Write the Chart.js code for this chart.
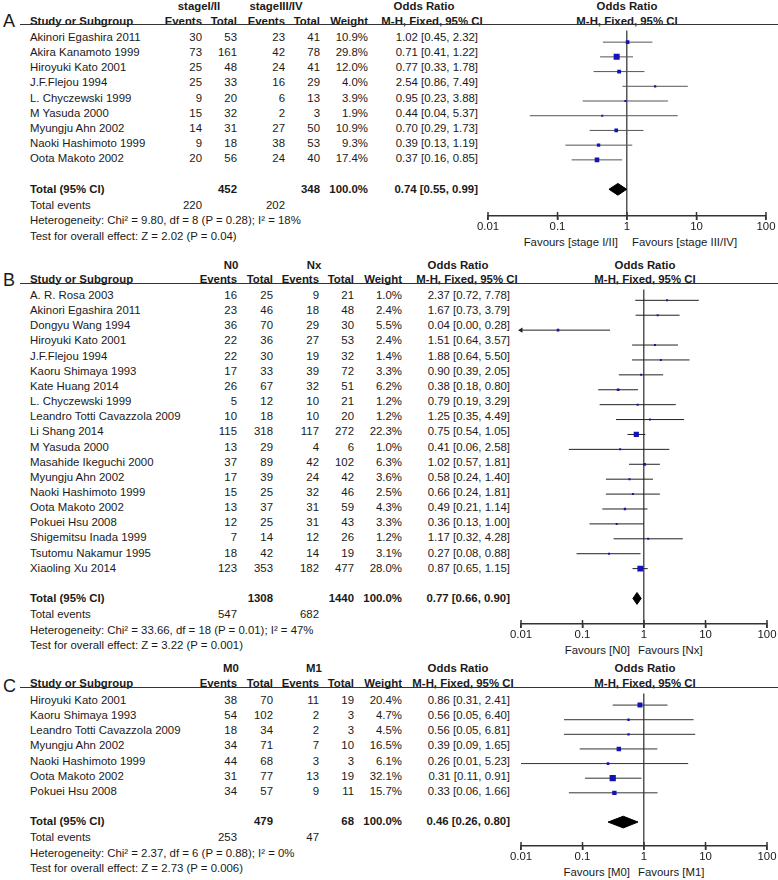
<!DOCTYPE html>
<html><head><meta charset="utf-8">
<script src="https://cdn.jsdelivr.net/npm/chart.js@4.4.0/dist/chart.umd.min.js"></script>
<style>
body{margin:0;background:#fff;}
#page{position:relative;width:778px;height:880px;overflow:hidden;font-family:"Liberation Sans",Arial,sans-serif;font-size:11.4px;color:#1a1a1a;}
.t{position:absolute;white-space:nowrap;line-height:14px;height:14px;}
.b{font-weight:bold;}
.rule{position:absolute;height:1px;background:#333;}
canvas{position:absolute;}
</style></head><body><div id="page"></div>
<script>
// ---- panel A: stage I/II vs stage III/IV ----
const studiesA = ['Akinori Egashira 2011','Akira Kanamoto 1999','Hiroyuki Kato 2001','J.F.Flejou 1994','L. Chyczewski 1999','M Yasuda 2000','Myungju Ahn 2002','Naoki Hashimoto 1999','Oota Makoto 2002'];
const evA1 = [30,73,25,25,9,15,14,9,20];
const totA1 = [53,161,48,33,20,32,31,18,56];
const evA2 = [23,42,24,16,6,2,27,38,24];
const totA2 = [41,78,41,29,13,3,50,53,40];
const weightA = [10.9,29.8,12.0,4.0,3.9,1.9,10.9,9.3,17.4];
const orA = [1.02,0.71,0.77,2.54,0.95,0.44,0.70,0.39,0.37];
const loA = [0.45,0.41,0.33,0.86,0.23,0.04,0.29,0.13,0.16];
const hiA = [2.32,1.22,1.78,7.49,3.88,5.37,1.73,1.19,0.85];
const totalA = [452,348];          // total participants
const totalEventsA = [220,202];
const pooledA = [0.74,0.55,0.99];  // OR, lo, hi
const hetA = 'Heterogeneity: Chi² = 9.80, df = 8 (P = 0.28); I² = 18%';
const testA = 'Test for overall effect: Z = 2.02 (P = 0.04)';

// ---- panel B: N0 vs Nx ----
const studiesB = ['A. R. Rosa 2003','Akinori Egashira 2011','Dongyu Wang 1994','Hiroyuki Kato 2001','J.F.Flejou 1994','Kaoru Shimaya 1993','Kate Huang 2014','L. Chyczewski 1999','Leandro Totti Cavazzola 2009','Li Shang 2014','M Yasuda 2000','Masahide Ikeguchi 2000','Myungju Ahn 2002','Naoki Hashimoto 1999','Oota Makoto 2002','Pokuei Hsu 2008','Shigemitsu Inada 1999','Tsutomu Nakamur 1995','Xiaoling Xu 2014'];
const evB1 = [16,23,36,22,22,17,26,5,10,115,13,37,17,15,13,12,7,18,123];
const totB1 = [25,46,70,36,30,33,67,12,18,318,29,89,39,25,37,25,14,42,353];
const evB2 = [9,18,29,27,19,39,32,10,10,117,4,42,24,32,31,31,12,14,182];
const totB2 = [21,48,30,53,32,72,51,21,20,272,6,102,42,46,59,43,26,19,477];
const weightB = [1.0,2.4,5.5,2.4,1.4,3.3,6.2,1.2,1.2,22.3,1.0,6.3,3.6,2.5,4.3,3.3,1.2,3.1,28.0];
const orB = [2.37,1.67,0.04,1.51,1.88,0.90,0.38,0.79,1.25,0.75,0.41,1.02,0.58,0.66,0.49,0.36,1.17,0.27,0.87];
const loB = [0.72,0.73,0.00,0.64,0.64,0.39,0.18,0.19,0.35,0.54,0.06,0.57,0.24,0.24,0.21,0.13,0.32,0.08,0.65];
const hiB = [7.78,3.79,0.28,3.57,5.50,2.05,0.80,3.29,4.49,1.05,2.58,1.81,1.40,1.81,1.14,1.00,4.28,0.88,1.15];
const totalB = [1308,1440];
const totalEventsB = [547,682];
const pooledB = [0.77,0.66,0.90];
const hetB = 'Heterogeneity: Chi² = 33.66, df = 18 (P = 0.01); I² = 47%';
const testB = 'Test for overall effect: Z = 3.22 (P = 0.001)';

// ---- panel C: M0 vs M1 ----
const studiesC = ['Hiroyuki Kato 2001','Kaoru Shimaya 1993','Leandro Totti Cavazzola 2009','Myungju Ahn 2002','Naoki Hashimoto 1999','Oota Makoto 2002','Pokuei Hsu 2008'];
const evC1 = [38,54,18,34,44,31,34];
const totC1 = [70,102,34,71,68,77,57];
const evC2 = [11,2,2,7,3,13,9];
const totC2 = [19,3,3,10,3,19,11];
const weightC = [20.4,4.7,4.5,16.5,6.1,32.1,15.7];
const orC = [0.86,0.56,0.56,0.39,0.26,0.31,0.33];
const loC = [0.31,0.05,0.05,0.09,0.01,0.11,0.06];
const hiC = [2.41,6.40,6.81,1.65,5.23,0.91,1.66];
const totalC = [479,68];
const totalEventsC = [253,47];
const pooledC = [0.46,0.26,0.80];
const hetC = 'Heterogeneity: Chi² = 2.37, df = 6 (P = 0.88); I² = 0%';
const testC = 'Test for overall effect: Z = 2.73 (P = 0.006)';

const tickVals = [0.01,0.1,1,10,100];
const AXIS_MIN = 0.01, AXIS_MAX = 100;
const SP = 15.15; // row pitch

const page = document.getElementById('page');

function txt(s, x, y, align, bold, size) {
  const d = document.createElement('div');
  d.className = 't' + (bold ? ' b' : '');
  d.textContent = s;
  if (size) d.style.fontSize = size + 'px';
  page.appendChild(d);
  const w = d.getBoundingClientRect().width;
  let left = x;
  if (align === 'right') left = x - w;
  else if (align === 'center') left = x - w / 2;
  d.style.left = left + 'px';
  d.style.top = (y - 7) + 'px';
}

function rule(x1, x2, y) {
  const d = document.createElement('div');
  d.className = 'rule';
  d.style.left = x1 + 'px'; d.style.width = (x2 - x1) + 'px'; d.style.top = y + 'px';
  page.appendChild(d);
}

const fmtOR = (o, l, h) => o.toFixed(2) + ' [' + l.toFixed(2) + ', ' + h.toFixed(2) + ']';

function panel(p, L) {
  const c = L.cols;
  txt(p.letter, 3, L.letterY, 'left', false, 18);
  txt(p.g1, L.g1x, L.groupY, 'center', true);
  txt(p.g2, L.g2x, L.groupY, 'center', true);
  txt('Odds Ratio', L.orHead, L.groupY, 'center', true);
  txt('Odds Ratio', L.plotHead, L.groupY, 'center', true);
  txt('Study or Subgroup', 30, L.headY, 'left', true);
  txt('Events', c[0], L.headY, 'right', true);
  txt('Total', c[1], L.headY, 'right', true);
  txt('Events', c[2], L.headY, 'right', true);
  txt('Total', c[3], L.headY, 'right', true);
  txt('Weight', c[4], L.headY, 'right', true);
  txt('M-H, Fixed, 95% CI', L.mhHead, L.headY, 'center', true);
  txt('M-H, Fixed, 95% CI', L.plotHead, L.headY, 'center', true);
  rule(20, 778, L.top - 1);

  const n = p.names.length;
  p.names.forEach((s, i) => {
    const y = L.row0 + i * SP;
    txt(s, 30, y, 'left');
    txt(String(p.ev1[i]), c[0], y, 'right');
    txt(String(p.tot1[i]), c[1], y, 'right');
    txt(String(p.ev2[i]), c[2], y, 'right');
    txt(String(p.tot2[i]), c[3], y, 'right');
    txt(p.w[i].toFixed(1) + '%', c[4], y, 'right');
    txt(fmtOR(p.or[i], p.lo[i], p.hi[i]), c[5], y, 'right');
  });
  const ty = L.row0 + (n + 1) * SP;
  txt('Total (95% CI)', 30, ty, 'left', true);
  txt(String(p.total[0]), c[1], ty, 'right', true);
  txt(String(p.total[1]), c[3], ty, 'right', true);
  txt('100.0%', c[4], ty, 'right', true);
  txt(fmtOR(p.pooled[0], p.pooled[1], p.pooled[2]), c[5], ty, 'right', true);
  txt('Total events', 30, ty + 16, 'left');
  txt(String(p.events[0]), c[0], ty + 16, 'right');
  txt(String(p.events[1]), c[2], ty + 16, 'right');
  txt(p.het, 30, ty + 31.5, 'left');
  txt(p.test, 30, ty + 47, 'left');
  txt(p.fav1, L.fav1x, L.favY, 'right');
  txt(p.fav2, L.fav2x, L.favY, 'left');

  // forest plot
  const cv = document.createElement('canvas');
  const padL = 20, padR = 778 - L.xR, axisH = 30;
  const W = padL + (L.xR - L.xL) + padR;
  const H = (L.axisY - L.top) + axisH;
  cv.width = W; cv.height = H;
  cv.style.left = (L.xL - padL) + 'px'; cv.style.top = L.top + 'px';
  cv.style.width = W + 'px'; cv.style.height = H + 'px';
  page.appendChild(cv);

  const yMin = (L.top - L.row0) / SP, yMax = (L.axisY - L.row0) / SP;
  const datasets = [];
  datasets.push({
    type: 'scatter',
    data: p.or.map((v, i) => ({ x: v, y: i })),
    pointStyle: 'rect',
    pointRadius: p.w.map(w => Math.max(2, 1.1 * Math.sqrt(w)) / Math.SQRT2),
    pointBackgroundColor: '#1414b4', backgroundColor: '#1414b4', pointBorderWidth: 0, borderWidth: 0,
    showLine: false
  });
  // tick marks crossing the axis line
  datasets.push({
    type: 'scatter',
    data: tickVals.map(v => ({ x: v, y: yMax })),
    pointStyle: 'line', pointRotation: 90, pointRadius: 4,
    pointBorderColor: '#333', pointBorderWidth: 1.5, showLine: false, clip: false
  });
  const t = n + 1;
  datasets.push({
    type: 'line',
    data: [{x: p.pooled[1], y: t}, {x: p.pooled[0], y: t - 0.4}, {x: p.pooled[2], y: t}, {x: p.pooled[0], y: t + 0.4}, {x: p.pooled[1], y: t}],
    borderColor: '#000', backgroundColor: '#000', borderWidth: 1, fill: 'shape', pointRadius: 0, tension: 0
  });
  p.or.forEach((v, i) => {
    const cut = p.lo[i] < AXIS_MIN;
    datasets.push({
      type: 'line',
      data: [{x: cut ? AXIS_MIN : p.lo[i], y: i}, {x: p.hi[i], y: i}],
      borderColor: L.ciColor, borderWidth: 1,
      pointRadius: cut ? [3, 0] : 0, pointStyle: 'triangle', pointRotation: 270,
      pointBackgroundColor: L.ciColor, pointBorderWidth: 0, clip: false
    });
  });

  new Chart(cv, {
    type: 'scatter',
    data: { datasets },
    options: {
      responsive: false, animation: false, events: [],
      layout: { padding: { left: padL, right: padR, top: 0, bottom: 0 } },
      plugins: { legend: { display: false }, tooltip: { enabled: false } },
      scales: {
        x: {
          type: 'logarithmic', min: AXIS_MIN, max: AXIS_MAX, position: 'bottom',
          afterBuildTicks: s => { s.ticks = tickVals.map(v => ({ value: v })); },
          afterFit: s => { s.height = axisH; },
          ticks: { callback: v => String(v), font: { family: 'Liberation Sans', size: 11.4 }, color: '#1a1a1a', padding: 0, maxRotation: 0, autoSkip: false },
          grid: {
            color: ctx => (ctx.tick && ctx.tick.value === 1) ? '#555' : 'rgba(0,0,0,0)',
            lineWidth: 1.5, tickLength: 4, tickColor: '#333', tickWidth: 1.5
          },
          border: { display: true, color: '#333', width: 1.5 }
        },
        y: { type: 'linear', display: false, reverse: true, min: yMin, max: yMax }
      }
    }
  });
}

panel(
  { letter: 'A', g1: 'stageI/II', g2: 'stageIII/IV', names: studiesA, ev1: evA1, tot1: totA1, ev2: evA2, tot2: totA2,
    w: weightA, or: orA, lo: loA, hi: hiA, total: totalA, events: totalEventsA, pooled: pooledA, het: hetA, test: testA,
    fav1: 'Favours [stage I/II]', fav2: 'Favours [stage III/IV]' },
  { letterY: 21, groupY: 6, headY: 21, top: 25, row0: 37, axisY: 216, xL: 488, xR: 766,
    cols: [202, 237, 285, 320, 368, 478], g1x: 199, g2x: 276, orHead: 424, mhHead: 432, plotHead: 627,
    favY: 242, fav1x: 618, fav2x: 632, ciColor: '#555' }
);
panel(
  { letter: 'B', g1: 'N0', g2: 'Nx', names: studiesB, ev1: evB1, tot1: totB1, ev2: evB2, tot2: totB2,
    w: weightB, or: orB, lo: loB, hi: hiB, total: totalB, events: totalEventsB, pooled: pooledB, het: hetB, test: testB,
    fav1: 'Favours [N0]', fav2: 'Favours [Nx]' },
  { letterY: 280, groupY: 265, headY: 279, top: 284, row0: 295, axisY: 624, xL: 521, xR: 767,
    cols: [237, 273, 319, 354, 402, 510], g1x: 231, g2x: 314, orHead: 458, mhHead: 467, plotHead: 645,
    favY: 650, fav1x: 630, fav2x: 638, ciColor: '#222' }
);
panel(
  { letter: 'C', g1: 'M0', g2: 'M1', names: studiesC, ev1: evC1, tot1: totC1, ev2: evC2, tot2: totC2,
    w: weightC, or: orC, lo: loC, hi: hiC, total: totalC, events: totalEventsC, pooled: pooledC, het: hetC, test: testC,
    fav1: 'Favours [M0]', fav2: 'Favours [M1]' },
  { letterY: 686, groupY: 668, headY: 683, top: 688, row0: 700, axisY: 846, xL: 521, xR: 767,
    cols: [237, 273, 319, 354, 402, 510], g1x: 231, g2x: 314, orHead: 458, mhHead: 463, plotHead: 645,
    favY: 872, fav1x: 630, fav2x: 638, ciColor: '#333' }
);
</script>
</body></html>
